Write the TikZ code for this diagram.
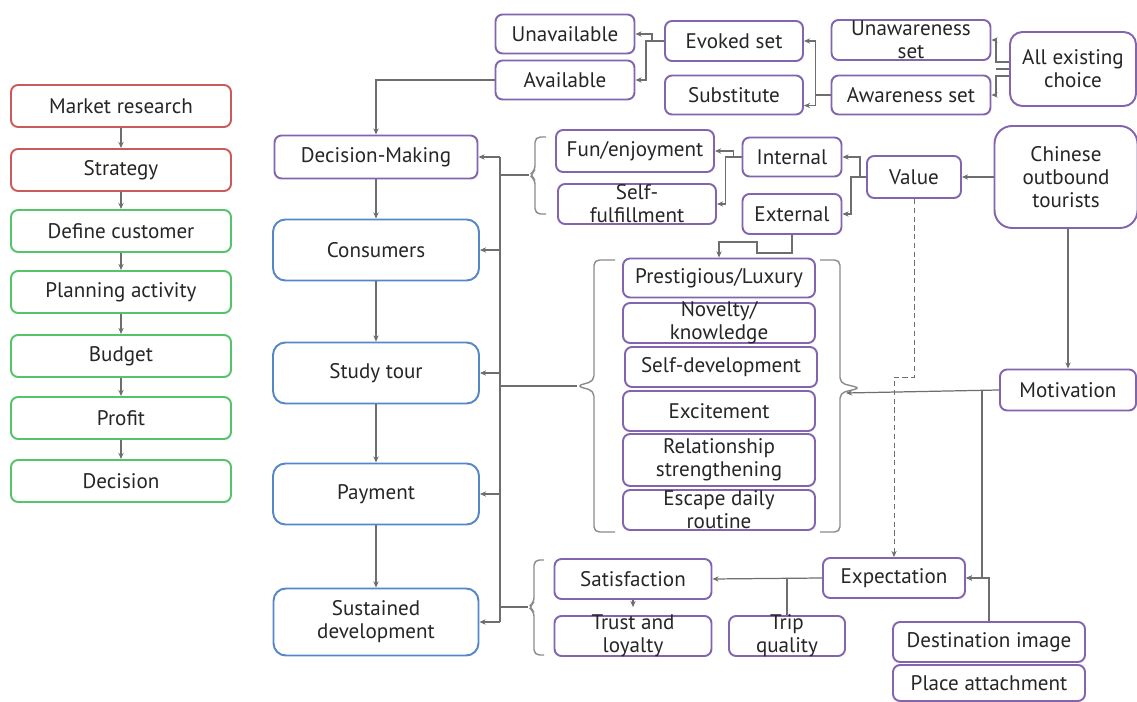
\documentclass[tikz,border=0pt]{standalone}
\usepackage{fontspec}
\setmainfont{PT Sans}
\usetikzlibrary{arrows.meta}

\definecolor{boxRed}{RGB}{205,90,90}
\definecolor{boxGreen}{RGB}{85,195,105}
\definecolor{boxPurple}{RGB}{130,100,175}
\definecolor{boxBlue}{RGB}{85,135,200}
\definecolor{lineGray}{RGB}{110,110,110}

\begin{document}
\begin{tikzpicture}[
    x=0.02cm, y=-0.02cm,
    font=\fontsize{12}{13}\selectfont,
    % 圆角方框
    box/.style={draw, rounded corners=4pt, line width=1.1pt, align=center,
        text=black!85, inner sep=0pt, fill=white},
    sz/.style 2 args={minimum width=#1cm, minimum height=#2cm},
    redBox/.style={box, draw=boxRed, sz={4.4}{0.84}},
    greenBox/.style={box, draw=boxGreen, sz={4.4}{0.84}},
    blueBox/.style={box, draw=boxBlue, rounded corners=7pt},
    purpleBox/.style={box, draw=boxPurple},
    squeeze/.style={inner ysep=-1.6pt},
    % 连线
    conn/.style={draw=lineGray, line width=0.7pt, -{Stealth[length=3.5pt,width=3pt]}},
    link/.style={draw=lineGray, line width=0.7pt},
    brace/.style={draw=lineGray!80, line width=0.8pt, rounded corners=3pt}
]
    \useasboundingbox (0,0) rectangle (1137,702);

    % 左侧流程
    \node[redBox]   (market)   at (121,106) {Market research};
    \node[redBox]   (strategy) at (121,170) {Strategy};
    \node[greenBox] (define)   at (121,231) {Define customer};
    \node[greenBox] (planning) at (121,292) {Planning activity};
    \node[greenBox] (budget)   at (121,356) {Budget};
    \node[greenBox] (profit)   at (121,418) {Profit};
    \node[greenBox] (decision) at (121,481) {Decision};
    \draw[conn] (market) -- (strategy);
    \draw[conn] (strategy) -- (define);
    \draw[conn] (define) -- (planning);
    \draw[conn] (planning) -- (budget);
    \draw[conn] (budget) -- (profit);
    \draw[conn] (profit) -- (decision);

    % 中间主线
    \node[purpleBox, sz={4.06}{0.86}] (decMaking) at (376,157) {Decision-Making};
    \node[blueBox, sz={4.12}{1.22}] (consumers) at (376,250) {Consumers};
    \node[blueBox, sz={4.12}{1.22}] (studyTour) at (376,373) {Study tour};
    \node[blueBox, sz={4.12}{1.22}] (payment)   at (376,494) {Payment};
    \node[blueBox, sz={4.1}{1.34}]  (sustained) at (376,622) {Sustained\\development};
    \draw[conn] (decMaking) -- (consumers);
    \draw[conn] (consumers) -- (studyTour);
    \draw[conn] (studyTour) -- (payment);
    \draw[conn] (payment) -- (sustained);

    % 选择集合
    \node[purpleBox, sz={2.78}{0.78}] (unavail)  at (565,34)  {Unavailable};
    \node[purpleBox, sz={2.78}{0.78}] (avail)    at (565,80)  {Available};
    \node[purpleBox, sz={2.76}{0.8}]  (evoked)   at (734,41)  {Evoked set};
    \node[purpleBox, sz={2.76}{0.78}] (subst)    at (734,95)  {Substitute};
    \node[purpleBox, sz={3.18}{0.8}, squeeze] (unaware) at (911,40) {Unawareness\\set};
    \node[purpleBox, sz={3.18}{0.78}] (aware)    at (911,95)  {Awareness set};
    \node[purpleBox, sz={2.52}{1.48}, rounded corners=7pt] (allChoice) at (1073,69) {All existing\\choice};

    \draw[conn] ([yshift=4pt]allChoice.west) -- ++(-13,0) |- (unaware.east);
    \draw[conn] ([yshift=-4pt]allChoice.west) -- ++(-13,0) |- (aware.east);
    \draw[link] (allChoice.west) -- ++(-13,0);
    \draw[conn] (aware.west) -- ++(-15,0) |- (evoked.east);
    \draw[conn] (aware.west) -- ++(-15,0) |- ([yshift=-6pt]subst.east);
    \draw[conn] (evoked.west) -- ++(-12,0) |- (unavail.east);
    \draw[conn] (evoked.west) -- ++(-18,0) |- (avail.east);
    \draw[conn] (avail.west) -| (decMaking.north);

    % 价值
    \node[purpleBox, sz={3.16}{0.84}] (fun)      at (635,151) {Fun/enjoyment};
    \node[purpleBox, sz={3.16}{0.8}, squeeze] (selfFul) at (637,204) {Self-\\fulfillment};
    \node[purpleBox, sz={1.98}{0.78}] (internal) at (792,157) {Internal};
    \node[purpleBox, sz={1.98}{0.8}]  (external) at (792,214) {External};
    \node[purpleBox, sz={1.88}{0.84}] (value)    at (914,177) {Value};
    \node[purpleBox, sz={2.86}{2.04}, rounded corners=10pt] (tourists) at (1066,177) {Chinese\\outbound\\tourists};

    \draw[conn] (tourists.west) -- (value.east);
    \draw[conn] (value.west) -- ++(-6,0) |- (internal.east);
    \draw[conn] (value.west) -- ++(-15,0) |- (external.east);
    \draw[conn] (internal.west) -- ++(-8,0) |- (fun.east);
    \draw[conn] (internal.west) -- ++(-16,0) |- (selfFul.east);

    % 动机
    \node[purpleBox, sz={3.84}{0.78}] (prestige) at (719,278) {Prestigious/Luxury};
    \node[purpleBox, sz={3.84}{0.8}, squeeze] (novelty) at (719,323) {Novelty/\\knowledge};
    \node[purpleBox, sz={3.84}{0.8}]  (selfDev)  at (721,367) {Self-development};
    \node[purpleBox, sz={3.84}{0.8}]  (excite)   at (719,411) {Excitement};
    \node[purpleBox, sz={3.84}{1.04}] (relation) at (719,460) {Relationship\\strengthening};
    \node[purpleBox, sz={3.84}{0.8}, squeeze] (escape) at (719,510) {Escape daily\\routine};
    \node[purpleBox, sz={2.72}{0.82}] (motiv)    at (1068,390) {Motivation};

    \draw[conn] (external.south) -- ++(0,18) -- ++(-35,0) -- ++(0,-11) -| (prestige.north);
    \draw[conn] (motiv.north |- tourists.south) -- (motiv.north);
    \coordinate (rbrace) at (846,393);
    \draw[conn] (motiv.west) -- (rbrace);

    % 期望与满意
    \node[purpleBox, sz={2.84}{0.8}]  (expect) at (894,578) {Expectation};
    \node[purpleBox, sz={3.14}{0.8}]  (satis)  at (633,579) {Satisfaction};
    \node[purpleBox, sz={3.14}{0.8}, squeeze] (trust) at (633,636) {Trust and\\loyalty};
    \node[purpleBox, sz={2.32}{0.8}, squeeze] (trip)  at (787,636) {Trip\\quality};
    \node[purpleBox, sz={3.84}{0.8}]  (destImg) at (989,642) {Destination image};
    \node[purpleBox, sz={3.84}{0.72}] (place)   at (989,683) {Place attachment};

    \draw[conn, densely dashed, line width=0.4pt] (value.south) -- ++(0,178) -| (expect.north);
    \draw[conn] (motiv.west) ++(-17,0) |- (expect.east);
    \draw[conn] (destImg.north) |- (expect.east);
    \draw[conn] (expect.west) -- (satis.east);
    \draw[link] (trip.north) -- (trip.north |- satis.east);
    \draw[conn, shorten >=4.5pt] (satis.south) -- (trust.north);

    % 括号
    \draw[brace] (546,137) -- (535,137) -- (535,171) -- (529,175) -- (535,179) -- (535,214) -- (546,214);
    \draw[brace] (615,260) -- (594,260) -- (594,381) -- (577,386) -- (594,391) -- (594,532) -- (615,532);
    \draw[brace] (820,260) -- (840,260) -- (840,383) -- (860,388) -- (840,393) -- (840,532) -- (820,532);
    \draw[brace] (544,560) -- (534,560) -- (534,603) -- (528,607) -- (534,611) -- (534,655) -- (544,655);

    % 汇总线
    \coordinate (busTop) at (500,157);
    \coordinate (busBot) at (500,622);
    \draw[link] (busTop) -- (busBot);
    \draw[link] (busTop |- 0,175) -- (529,175);
    \draw[link] (busTop |- 0,386) -- (577,386);
    \draw[link] (busTop |- 0,607) -- (528,607);
    \draw[conn] (busTop) -- (decMaking.east);
    \draw[conn] (consumers.east -| busTop) -- (consumers.east);
    \draw[conn] (studyTour.east -| busTop) -- (studyTour.east);
    \draw[conn] (payment.east -| busTop) -- (payment.east);
    \draw[conn] (busBot) -- (sustained.east);
\end{tikzpicture}
\end{document}
